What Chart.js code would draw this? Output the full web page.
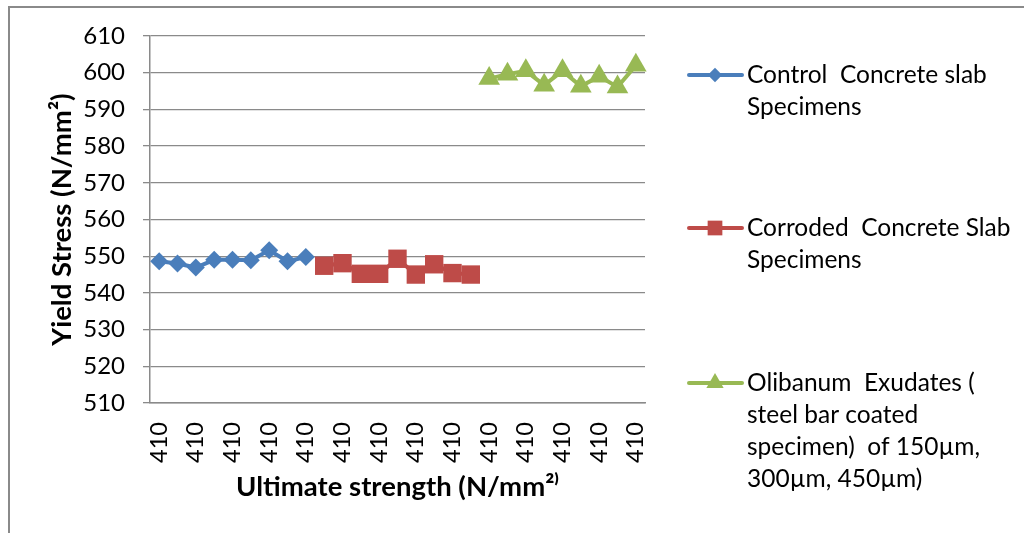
<!DOCTYPE html>
<html>
<head>
<meta charset="utf-8">
<script src="https://cdn.jsdelivr.net/npm/chart.js@4"></script>
<style>
  html, body { margin: 0; padding: 0; background: #fff; }
  #wrap { width: 1024px; height: 533px; position: relative; }
</style>
</head>
<body>
<div id="wrap"><canvas id="chart" width="1024" height="533"></canvas></div>
<script>
// Data
const categories = ['410', '410', '410', '410', '410', '410', '410', '410', '410',
                    '410', '410', '410', '410', '410', '410', '410', '410', '410',
                    '410', '410', '410', '410', '410', '410', '410', '410', '410'];
const controlValues = [548.6, 548.0, 546.9, 549.0, 549.0, 548.9, 551.6, 548.6, 549.8];
const corrodedValues = [547.4, 548.1, 545.2, 545.2, 549.3, 545.0, 547.8, 545.4, 545.0];
const olibanumValues = [598.4, 599.6, 600.5, 596.6, 600.5, 596.3, 599.0, 596.1, 602.0];
const yTicks = [510, 520, 530, 540, 550, 560, 570, 580, 590, 600, 610];

const seriesNames = [
    ['Control  Concrete slab', 'Specimens'],
    ['Corroded  Concrete Slab', 'Specimens'],
    ['Olibanum  Exudates (', 'steel bar coated', 'specimen)  of 150\u00b5m,', '300\u00b5m, 450\u00b5m)']
];
const colors = ['#4a7ebb', '#be4b48', '#98b954'];
const markers = ['rectRot', 'rect', 'triangle'];
const markerSize = [9, 13, 12.5];

// each series sits in its own block of nine categories
function place(values, block) {
    const out = categories.map(() => null);
    values.forEach((v, i) => { out[block * values.length + i] = v; });
    return out;
}

const FONT = 'Lato, "Open Sans", sans-serif';

const frameAndLegend = {
    id: 'frameAndLegend',
    beforeDraw(chart) {
        const c = chart.ctx;
        c.save();
        c.fillStyle = '#fff';
        c.fillRect(0, 0, chart.width, chart.height);
        c.strokeStyle = '#8a8a8a';
        c.lineWidth = 2;
        c.beginPath();
        c.moveTo(9, chart.height + 5);
        c.lineTo(9, 7);
        c.lineTo(chart.width + 5, 7);
        c.stroke();
        c.restore();
    },
    afterDraw(chart) {
        const c = chart.ctx;
        const tops = [75, 228, 383];
        c.save();
        chart.data.datasets.forEach((ds, i) => {
            const y = tops[i];
            c.strokeStyle = colors[i];
            c.lineWidth = 4;
            c.lineCap = 'round';
            c.beginPath();
            c.moveTo(689, y);
            c.lineTo(742, y);
            c.stroke();
            c.fillStyle = colors[i];
            Chart.helpers.drawPoint(c, {
                pointStyle: markers[i], radius: markerSize[i] * 0.8, borderWidth: 0, rotation: 0
            }, 715, y);
            c.fillStyle = '#000';
            c.font = '24.5px ' + FONT;
            c.textBaseline = 'middle';
            c.textAlign = 'left';
            seriesNames[i].forEach((line, k) => c.fillText(line, 747, y + k * 32));
        });
        c.restore();
    }
};

const ctx = document.getElementById('chart');
new Chart(ctx, {
    type: 'line',
    data: {
        labels: categories,
        datasets: [controlValues, corrodedValues, olibanumValues].map((vals, i) => ({
            label: seriesNames[i].join(' '),
            data: place(vals, i),
            borderColor: colors[i],
            backgroundColor: colors[i],
            borderWidth: 4,
            pointStyle: markers[i],
            pointRadius: markerSize[i],
            pointBorderWidth: 0,
            pointHoverRadius: markerSize[i],
            tension: 0,
            spanGaps: false
        }))
    },
    options: {
        responsive: false,
        animation: false,
        events: [],
        layout: { padding: { left: 0, top: 36, right: 379, bottom: 0 } },
        plugins: {
            legend: { display: false },
            tooltip: { enabled: false }
        },
        scales: {
            x: {
                offset: true,
                grid: { display: false, drawTicks: false },
                border: { display: true, color: '#8a8a8a', width: 1.5 },
                ticks: {
                    autoSkip: false,
                    maxRotation: 90,
                    minRotation: 90,
                    padding: 19,
                    color: '#000',
                    font: { family: FONT, size: 23.5 },
                    callback: function (value, index) {
                        return index % 2 === 0 ? categories[index] : null;
                    }
                },
                title: {
                    display: true,
                    text: 'Ultimate strength (N/mm\u00b2\u207e',
                    color: '#000',
                    font: { family: FONT, size: 27.5, weight: 'bold' },
                    padding: { top: 0, bottom: 29 }
                },
                afterFit: function (scale) { scale.height = 130; }
            },
            y: {
                min: 510,
                max: 610,
                afterBuildTicks: function (scale) {
                    scale.ticks = yTicks.map(v => ({ value: v }));
                },
                grid: { color: '#8a8a8a', lineWidth: 1.3, tickLength: 7, drawTicks: true },
                border: { display: true, color: '#8a8a8a', width: 1.5 },
                ticks: {
                    padding: 18,
                    color: '#000',
                    font: { family: FONT, size: 24 }
                },
                title: {
                    display: true,
                    text: 'Yield Stress (N/mm\u00b2)',
                    color: '#000',
                    font: { family: FONT, size: 27.5, weight: 'bold' },
                    padding: { top: 46, bottom: 0 }
                },
                afterFit: function (scale) { scale.width = 150; }
            }
        }
    },
    plugins: [frameAndLegend]
});
</script>
</body>
</html>
